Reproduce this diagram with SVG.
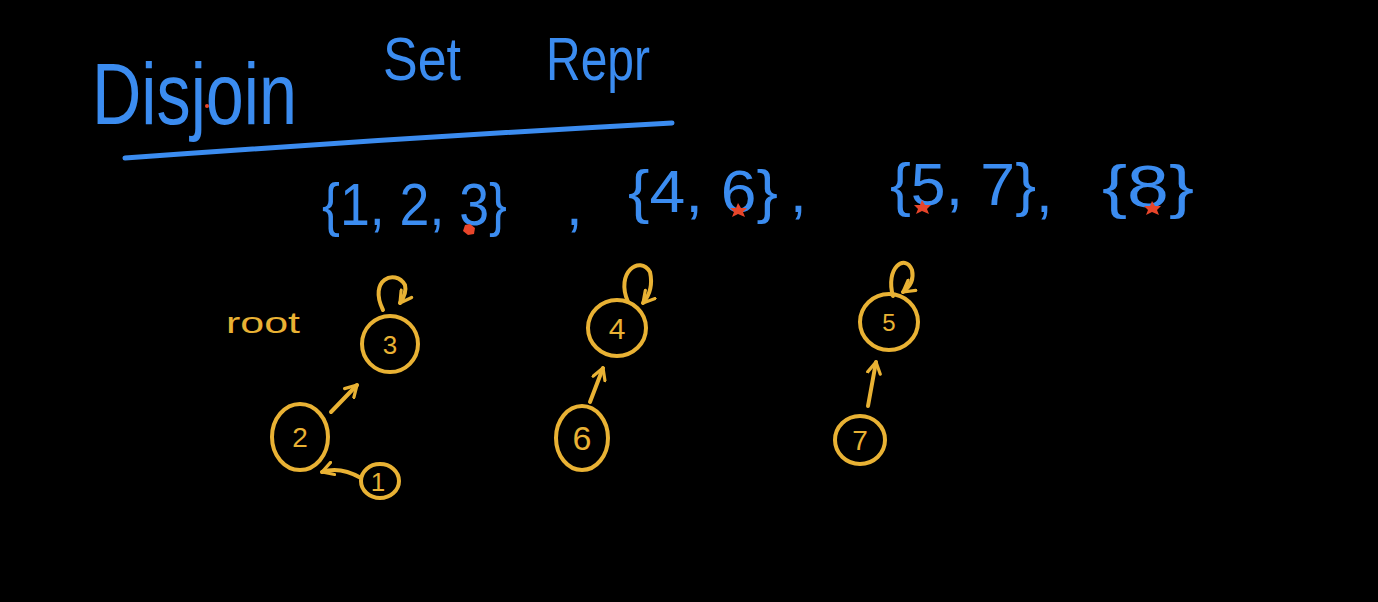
<svg xmlns="http://www.w3.org/2000/svg" width="1378" height="602" viewBox="0 0 1378 602">
<style>
.blue{fill:#3b8cf0;font-family:"Liberation Sans",sans-serif}
.yel{fill:#e9b234;font-family:"Liberation Sans",sans-serif}
.ring{fill:none;stroke:#e9b234;stroke-width:4}
.edge{fill:none;stroke:#e9b234;stroke-width:4;stroke-linecap:round;marker-end:url(#ah)}
.star{fill:#e8452a}
</style>
<defs>
<marker id="ah" viewBox="0 0 10 10" refX="8" refY="5" markerWidth="4" markerHeight="4" orient="auto" markerUnits="strokeWidth">
<path d="M1,1 L8,5 L1,9" fill="none" stroke="#e9b234" stroke-width="2" stroke-linecap="round" stroke-linejoin="round"/>
</marker>
</defs>
<rect width="1378" height="602" fill="#000"/>
<g id="title">
<text class="blue" x="92" y="124" font-size="88" textLength="205" lengthAdjust="spacingAndGlyphs">Disjoin</text>
<text class="blue" x="383" y="80" font-size="62" textLength="78" lengthAdjust="spacingAndGlyphs">Set</text>
<text class="blue" x="546" y="80" font-size="62" textLength="104" lengthAdjust="spacingAndGlyphs">Repr</text>
<path d="M125,158 Q400,138 672,123" fill="none" stroke="#3b8cf0" stroke-width="5" stroke-linecap="round"/>
<circle class="star" cx="207" cy="106" r="2"/>
</g>
<g id="sets">
<text class="blue" x="322" y="225" font-size="60" textLength="185" lengthAdjust="spacingAndGlyphs">{1, 2, 3}</text>
<text class="blue" x="566" y="225" font-size="60">,</text>
<text class="blue" x="628" y="212" font-size="60" textLength="150" lengthAdjust="spacingAndGlyphs">{4, 6}</text>
<text class="blue" x="790" y="212" font-size="60">,</text>
<text class="blue" x="890" y="205" font-size="60" textLength="146" lengthAdjust="spacingAndGlyphs">{5, 7}</text>
<text class="blue" x="1036" y="212" font-size="60">,</text>
<text class="blue" x="1102" y="207" font-size="60" textLength="92" lengthAdjust="spacingAndGlyphs">{8}</text>
<path class="star" d="M470,224 l5,4 l-1,6 l-6,1 l-5,-4 l2,-6 z"/>
<path class="star" d="M738,203 l3,5 l6,0 l-4,4 l2,5 l-7,-3 l-6,3 l2,-5 l-4,-4 l6,0 z"/>
<path class="star" d="M922,200 l3,5 l6,0 l-4,4 l2,5 l-7,-3 l-6,3 l2,-5 l-4,-4 l6,0 z"/>
<path class="star" d="M1152,201 l3,5 l6,0 l-4,4 l2,5 l-7,-3 l-6,3 l2,-5 l-4,-4 l6,0 z"/>
</g>
<g id="root-label">
<text class="yel" x="226" y="333" font-size="30" textLength="74" lengthAdjust="spacingAndGlyphs">root</text>
</g>
<g id="node3">
<ellipse class="ring" cx="390" cy="344" rx="28" ry="28"/>
<text class="yel" x="390" y="354" font-size="26" text-anchor="middle">3</text>
</g>
<g id="node2">
<ellipse class="ring" cx="300" cy="437" rx="28" ry="33"/>
<text class="yel" x="300" y="447" font-size="28" text-anchor="middle">2</text>
</g>
<g id="node1">
<ellipse class="ring" cx="380" cy="481" rx="19" ry="17"/>
<text class="yel" x="378" y="491" font-size="26" text-anchor="middle">1</text>
</g>
<g id="node4">
<ellipse class="ring" cx="617" cy="328" rx="29" ry="28"/>
<text class="yel" x="617" y="339" font-size="30" text-anchor="middle">4</text>
</g>
<g id="node6">
<ellipse class="ring" cx="582" cy="438" rx="26" ry="32"/>
<text class="yel" x="582" y="450" font-size="34" text-anchor="middle">6</text>
</g>
<g id="node5">
<ellipse class="ring" cx="889" cy="322" rx="29" ry="28"/>
<text class="yel" x="889" y="331" font-size="24" text-anchor="middle">5</text>
</g>
<g id="node7">
<ellipse class="ring" cx="860" cy="440" rx="25" ry="24"/>
<text class="yel" x="860" y="450" font-size="28" text-anchor="middle">7</text>
</g>
<g id="connectors">
<path class="edge" d="M331,412 L357,385"/>
<path class="edge" d="M361,478 Q340,466 322,472"/>
<path class="edge" d="M590,402 L603,368"/>
<path class="edge" d="M868,406 L876,362"/>
<path class="edge" d="M383,310 C368,280 395,268 405,285 Q407,293 400,303"/>
<path class="edge" d="M628,302 C615,272 640,255 650,272 Q654,290 643,303"/>
<path class="edge" d="M893,296 C885,268 905,253 912,270 Q915,283 903,292"/>
</g>
</svg>
